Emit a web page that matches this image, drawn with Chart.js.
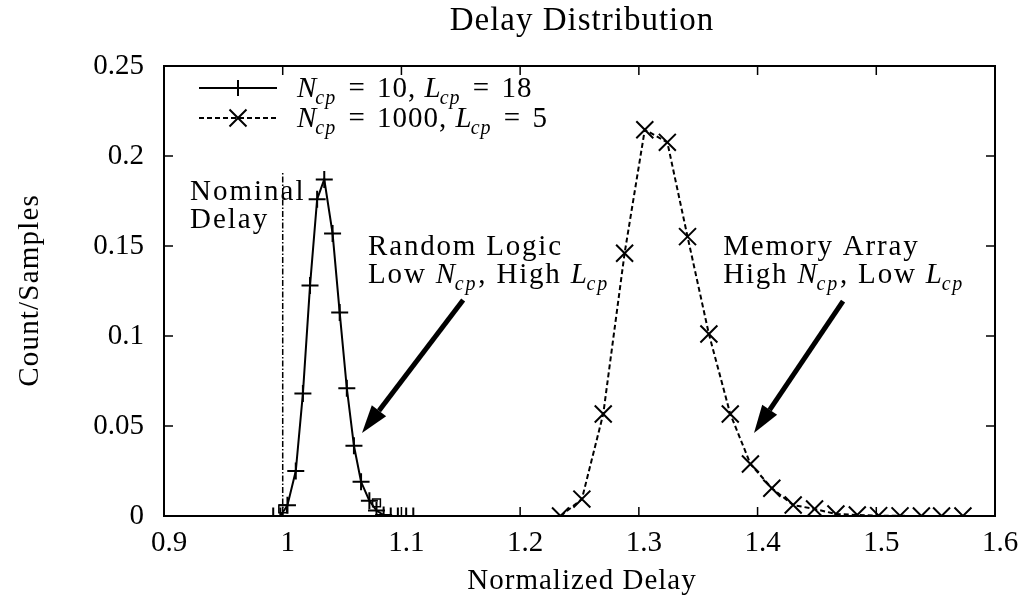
<!DOCTYPE html>
<html>
<head>
<meta charset="utf-8">
<title>Delay Distribution</title>
<script src="https://cdn.jsdelivr.net/npm/chart.js@4.4.1/dist/chart.umd.min.js"></script>
<style>
  html, body { margin: 0; padding: 0; background: #fff; }
  #wrap { width: 1025px; height: 606px; position: relative; }
</style>
</head>
<body>
<div id="wrap"><canvas id="delayChart"></canvas></div>
<script>
// axis ticks
const xTicks = [0.9, 1, 1.1, 1.2, 1.3, 1.4, 1.5, 1.6];
const xTickLabels = ['0.9', '1', '1.1', '1.2', '1.3', '1.4', '1.5', '1.6'];
const yTicks = [0, 0.05, 0.1, 0.15, 0.2, 0.25];
const yTickLabels = ['0', '0.05', '0.1', '0.15', '0.2', '0.25'];

// series 1: random logic (Ncp = 10, Lcp = 18)
const randomLogicX = [0.992, 0.998, 1.004, 1.011, 1.017, 1.023, 1.029, 1.035, 1.042, 1.048,
                      1.054, 1.060, 1.066, 1.073, 1.079, 1.085, 1.091, 1.097, 1.104, 1.110];
const randomLogicY = [0, 0, 0.006, 0.025, 0.068, 0.128, 0.176, 0.187, 0.157, 0.113,
                      0.071, 0.039, 0.019, 0.0085, 0.003, 0.0005, 0, 0, 0, 0];

// series 2: memory array (Ncp = 1000, Lcp = 5)
const memoryX = [1.234, 1.252, 1.270, 1.288, 1.305, 1.324, 1.341, 1.359, 1.377, 1.394,
                 1.412, 1.430, 1.448, 1.466, 1.484, 1.502, 1.520, 1.538, 1.555, 1.573];
const memoryY = [0, 0.0094, 0.0567, 0.146, 0.2146, 0.2076, 0.1552, 0.1011, 0.0567, 0.0289,
                 0.0154, 0.0061, 0.0039, 0.0011, 0.0006, 0.0002, 0.0001, 0, 0, 0];

// stray square markers near the base
const squareX = [1.000, 1.079];
const squareY = [0.004, 0.0073];

const seriesLabels = ['N_cp = 10, L_cp = 18', 'N_cp = 1000, L_cp = 5'];
const chartTitle = 'Delay Distribution';
const xTitle = 'Normalized Delay';
const yTitle = 'Count/Samples';
const nominalDelay = 1.0;

const FONT = "'Liberation Serif', 'Times New Roman', serif";
const FS = 29;

Chart.defaults.font.family = FONT;
Chart.defaults.font.size = FS;
Chart.defaults.color = '#000';

const toPoints = (xs, ys) => xs.map((x, i) => ({ x: x, y: ys[i] }));

// draws text where X_cp becomes italic X with italic subscript
function drawMath(ctx, text, x, y, spacing, eqGap) {
    const parts = text.split(/([A-Z]_[a-z]+|=)/);
    ctx.save();
    ctx.textAlign = 'left';
    ctx.textBaseline = 'alphabetic';
    ctx.letterSpacing = spacing + 'px';
    parts.forEach(p => {
        if (!p) return;
        const m = p.match(/^([A-Z])_([a-z]+)$/);
        if (m) {
            ctx.font = 'italic ' + FS + 'px ' + FONT;
            ctx.fillText(m[1], x, y);
            x += ctx.measureText(m[1]).width;
            ctx.font = 'italic ' + Math.round(FS * 0.7) + 'px ' + FONT;
            ctx.fillText(m[2], x - 2, y + 7);
            x += ctx.measureText(m[2]).width - 1;
        } else {
            ctx.font = FS + 'px ' + FONT;
            if (p === '=') x += eqGap;
            ctx.fillText(p, x, y);
            x += ctx.measureText(p).width;
            if (p === '=') x += eqGap;
        }
    });
    ctx.restore();
}

function drawLabel(ctx, text, x, y, size, spacing, rot) {
    ctx.save();
    ctx.translate(x, y);
    if (rot) ctx.rotate(rot);
    ctx.font = size + 'px ' + FONT;
    ctx.letterSpacing = spacing + 'px';
    ctx.textAlign = 'center';
    ctx.textBaseline = 'alphabetic';
    ctx.fillText(text, spacing / 2, 0);
    ctx.restore();
}

function drawArrow(ctx, x0, y0, x1, y1) {
    const ang = Math.atan2(y1 - y0, x1 - x0);
    const headLen = 28, headW = 9;
    const bx = x1 - headLen * Math.cos(ang), by = y1 - headLen * Math.sin(ang);
    ctx.save();
    ctx.strokeStyle = '#000';
    ctx.fillStyle = '#000';
    ctx.lineWidth = 5;
    ctx.beginPath();
    ctx.moveTo(x0, y0);
    ctx.lineTo(bx, by);
    ctx.stroke();
    ctx.beginPath();
    ctx.moveTo(x1, y1);
    ctx.lineTo(bx + headW * Math.sin(ang), by - headW * Math.cos(ang));
    ctx.lineTo(bx - headW * Math.sin(ang), by + headW * Math.cos(ang));
    ctx.closePath();
    ctx.fill();
    ctx.restore();
}

const gnuplotFrame = {
    id: 'gnuplotFrame',
    beforeDatasetsDraw(chart) {
        const { ctx, scales: { x, y } } = chart;
        // nominal delay marker
        ctx.save();
        ctx.strokeStyle = '#000';
        ctx.lineWidth = 1.5;
        ctx.setLineDash([6, 2, 1.5, 2]);
        ctx.beginPath();
        ctx.moveTo(x.getPixelForValue(nominalDelay), y.getPixelForValue(0));
        ctx.lineTo(x.getPixelForValue(nominalDelay), y.getPixelForValue(0.191));
        ctx.stroke();
        ctx.restore();
    },
    afterDatasetsDraw(chart) {
        const { ctx, chartArea: a, scales: { x, y } } = chart;
        ctx.save();
        ctx.strokeStyle = '#000';
        ctx.fillStyle = '#000';

        // frame and inward ticks on all four sides
        ctx.lineWidth = 2;
        ctx.strokeRect(a.left, a.top, a.right - a.left, a.bottom - a.top);
        ctx.lineWidth = 1.5;
        ctx.beginPath();
        xTicks.forEach(v => {
            const px = x.getPixelForValue(v);
            ctx.moveTo(px, a.bottom); ctx.lineTo(px, a.bottom - 9);
            ctx.moveTo(px, a.top); ctx.lineTo(px, a.top + 9);
        });
        yTicks.forEach(v => {
            const py = y.getPixelForValue(v);
            ctx.moveTo(a.left, py); ctx.lineTo(a.left + 9, py);
            ctx.moveTo(a.right, py); ctx.lineTo(a.right - 9, py);
        });
        ctx.stroke();

        // titles
        const cx = (a.left + a.right) / 2;
        drawLabel(ctx, chartTitle, cx + 2, 30, 33, 1, 0);
        drawLabel(ctx, xTitle, cx + 2, 589, FS, 1, 0);
        drawLabel(ctx, yTitle, 38, (a.top + a.bottom) / 2, FS, 1.2, -Math.PI / 2);

        // annotations
        drawMath(ctx, 'Nominal', x.getPixelForValue(0.9219), y.getPixelForValue(0.1756), 2, 0);
        drawMath(ctx, 'Delay', x.getPixelForValue(0.9219), y.getPixelForValue(0.16), 2, 0);
        drawMath(ctx, 'Random Logic', x.getPixelForValue(1.0719), y.getPixelForValue(0.145), 1.8, 0);
        drawMath(ctx, 'Low N_cp, High L_cp', x.getPixelForValue(1.0719), y.getPixelForValue(0.1294), 1.8, 0);
        drawMath(ctx, 'Memory Array', x.getPixelForValue(1.371), y.getPixelForValue(0.145), 1.8, 0);
        drawMath(ctx, 'High N_cp, Low L_cp', x.getPixelForValue(1.371), y.getPixelForValue(0.1294), 1.8, 0);
        drawArrow(ctx, x.getPixelForValue(1.152), y.getPixelForValue(0.12),
                       x.getPixelForValue(1.0668), y.getPixelForValue(0.0461));
        drawArrow(ctx, x.getPixelForValue(1.472), y.getPixelForValue(0.1194),
                       x.getPixelForValue(1.397), y.getPixelForValue(0.0461));

        // legend
        chart.data.datasets.slice(0, 2).forEach((ds, i) => {
            const ly = a.top + 22 + i * 30;
            const x0 = a.left + 35, x1 = a.left + 113, xm = (x0 + x1) / 2;
            ctx.lineWidth = 2;
            ctx.setLineDash(ds.borderDash || []);
            ctx.beginPath();
            ctx.moveTo(x0, ly); ctx.lineTo(x1, ly);
            ctx.stroke();
            ctx.setLineDash([]);
            const r = i === 0 ? 8 : 8.5;
            ctx.beginPath();
            if (i === 0) {
                ctx.moveTo(xm - r, ly); ctx.lineTo(xm + r, ly);
                ctx.moveTo(xm, ly - r); ctx.lineTo(xm, ly + r);
            } else {
                ctx.moveTo(xm - r, ly - r); ctx.lineTo(xm + r, ly + r);
                ctx.moveTo(xm - r, ly + r); ctx.lineTo(xm + r, ly - r);
            }
            ctx.stroke();
            drawMath(ctx, ds.label, a.left + 133, ly + 9, 1, 3);
        });
        ctx.restore();
    }
};

const ctx = document.getElementById('delayChart').getContext('2d');

const delayChart = new Chart(ctx, {
    type: 'scatter',
    data: {
        datasets: [
            {
                label: seriesLabels[0],
                data: toPoints(randomLogicX, randomLogicY),
                showLine: true,
                borderColor: '#000',
                borderWidth: 2,
                pointStyle: 'cross',
                pointRadius: 8.5,
                pointBorderWidth: 2,
                pointBorderColor: '#000',
                pointBackgroundColor: '#000'
            },
            {
                label: seriesLabels[1],
                data: toPoints(memoryX, memoryY),
                showLine: true,
                borderColor: '#000',
                borderWidth: 2,
                borderDash: [5, 3],
                pointStyle: 'crossRot',
                pointRadius: 12,
                pointBorderWidth: 2,
                pointBorderColor: '#000',
                pointBackgroundColor: '#000'
            },
            {
                label: 'squares',
                data: toPoints(squareX, squareY),
                showLine: false,
                pointStyle: 'rect',
                pointRadius: 5.5,
                pointBorderWidth: 1.5,
                pointBorderColor: '#000',
                pointBackgroundColor: 'rgba(0,0,0,0)'
            }
        ]
    },
    options: {
        responsive: true,
        maintainAspectRatio: false,
        animation: false,
        events: [],
        layout: { padding: { top: 66, right: 30, bottom: 0, left: 0 } },
        plugins: {
            legend: { display: false },
            tooltip: { enabled: false },
            title: { display: false }
        },
        scales: {
            x: {
                type: 'linear',
                min: 0.9,
                max: 1.6,
                grid: { display: false, drawTicks: false },
                border: { display: false },
                afterBuildTicks: scale => { scale.ticks = xTicks.map(v => ({ value: v })); },
                afterFit: scale => { scale.height = 90; },
                ticks: {
                    padding: 10,
                    labelOffset: 5,
                    maxRotation: 0,
                    autoSkip: false,
                    callback: (v, i) => xTickLabels[i]
                }
            },
            y: {
                type: 'linear',
                min: 0,
                max: 0.25,
                grid: { display: false, drawTicks: false },
                border: { display: false },
                afterBuildTicks: scale => { scale.ticks = yTicks.map(v => ({ value: v })); },
                afterFit: scale => { scale.width = 164; },
                ticks: {
                    padding: 20,
                    autoSkip: false,
                    callback: (v, i) => yTickLabels[i]
                }
            }
        }
    },
    plugins: [gnuplotFrame]
});
</script>
</body>
</html>
